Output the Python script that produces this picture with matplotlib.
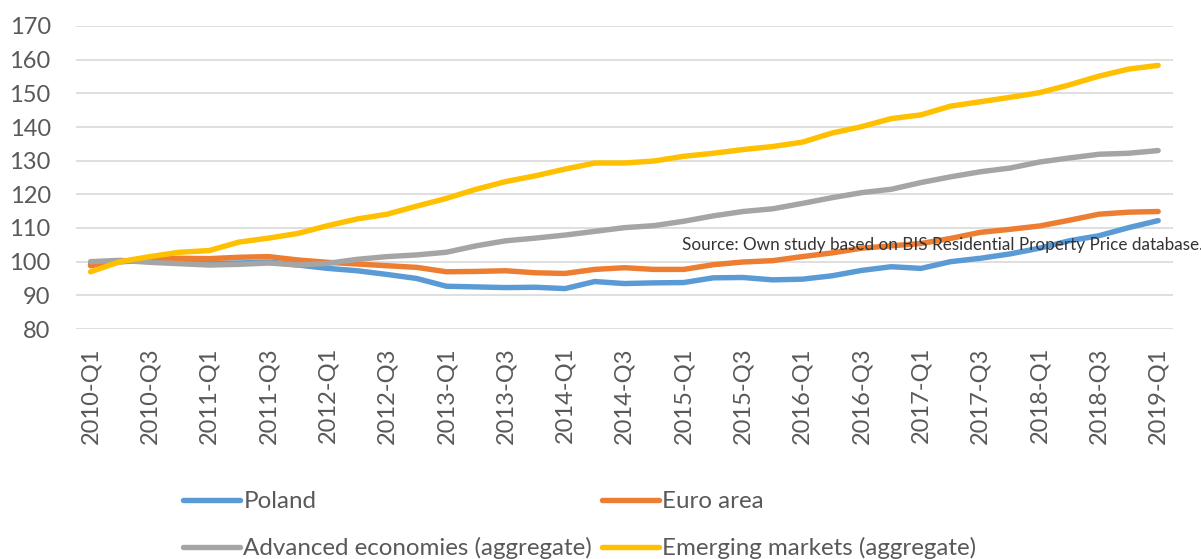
import matplotlib
matplotlib.use("Agg")
import matplotlib.pyplot as plt

quarters = [f"{y}-Q{q}" for y in range(2010, 2020) for q in range(1, 5)][:37]

poland = [99.2, 100.0, 100.3, 99.8, 99.5, 99.6, 99.9, 99.0, 98.0, 97.3, 96.2, 95.0,
          92.7, 92.5, 92.3, 92.4, 92.0, 94.1, 93.5, 93.7, 93.8, 95.2, 95.3, 94.6,
          94.8, 95.8, 97.4, 98.5, 98.0, 100.0, 101.0, 102.3, 104.0, 106.2, 107.7,
          110.1, 112.2]
euro_area = [98.8, 100.0, 100.6, 101.0, 100.9, 101.3, 101.5, 100.5, 99.8, 99.3, 98.8,
             98.3, 97.0, 97.1, 97.3, 96.7, 96.5, 97.7, 98.2, 97.7, 97.7, 99.1, 99.9,
             100.3, 101.5, 102.6, 104.0, 104.7, 105.4, 106.9, 108.7, 109.6, 110.6,
             112.3, 114.1, 114.7, 114.9]
advanced = [100.0, 100.4, 99.8, 99.4, 99.0, 99.2, 99.6, 99.0, 99.5, 100.7, 101.5,
            102.0, 102.8, 104.7, 106.2, 107.0, 107.9, 109.0, 110.1, 110.7, 112.0,
            113.6, 114.9, 115.7, 117.3, 119.0, 120.5, 121.5, 123.5, 125.2, 126.7,
            127.8, 129.6, 130.8, 131.9, 132.2, 133.0]
emerging = [97.0, 100.0, 101.5, 102.8, 103.3, 105.8, 107.0, 108.4, 110.7, 112.7,
            114.1, 116.5, 118.8, 121.5, 123.8, 125.5, 127.5, 129.3, 129.3, 129.9,
            131.3, 132.2, 133.3, 134.2, 135.5, 138.2, 140.1, 142.5, 143.6, 146.2,
            147.5, 148.8, 150.2, 152.5, 155.1, 157.2, 158.3]

series_names = ["Poland", "Euro area", "Advanced economies (aggregate)",
                "Emerging markets (aggregate)"]
colors = ["#5B9BD5", "#ED7D31", "#A5A5A5", "#FFC000"]
y_ticks = [80, 90, 100, 110, 120, 130, 140, 150, 160, 170]

plt.rcParams["font.family"] = ["Lato", "DejaVu Sans"]
text_color = "#595959"

fig = plt.figure(figsize=(12.01, 5.59), dpi=100)
ax = fig.add_axes([75.7 / 1201, 1 - 329 / 559, (1173 - 75.7) / 1201, (329 - 26) / 559])

x = list(range(len(quarters)))
handles = []
for data, name, c in zip([poland, euro_area, advanced, emerging], series_names, colors):
    h, = ax.plot(x, data, color=c, lw=3.9, solid_capstyle="round",
                 solid_joinstyle="round", label=name, zorder=3)
    handles.append(h)

ax.set_xlim(-0.5, len(quarters) - 0.5)
ax.set_ylim(80, 170)
ax.set_yticks(y_ticks)
ax.set_yticklabels([str(v) for v in y_ticks])
ax.set_xticks(x[::2])
ax.set_xticklabels(quarters[::2], rotation=90)
ax.grid(axis="y", color="#D9D9D9", lw=1.2, zorder=0)
for s in ax.spines.values():
    s.set_visible(False)
ax.tick_params(axis="both", length=0, colors=text_color, labelsize=17)
ax.tick_params(axis="y", pad=18)
ax.tick_params(axis="x", pad=13)

fig.text(682 / 1201, 1 - 245 / 559,
         "Source: Own study based on BIS Residential Property Price database.",
         fontsize=12.3, color="#333333", va="center", ha="left", zorder=5)

order = [0, 2, 1, 3]
leg = fig.legend([handles[i] for i in order], [series_names[i] for i in order],
                 loc="upper left", bbox_to_anchor=(183 / 1201, 1 - 491 / 559),
                 ncol=2, frameon=False, fontsize=17.4, handlelength=2.35,
                 handletextpad=0.15, columnspacing=0.4, labelspacing=1.05,
                 borderpad=0, borderaxespad=0, labelcolor=text_color)

fig.savefig("out.png", dpi=100)
